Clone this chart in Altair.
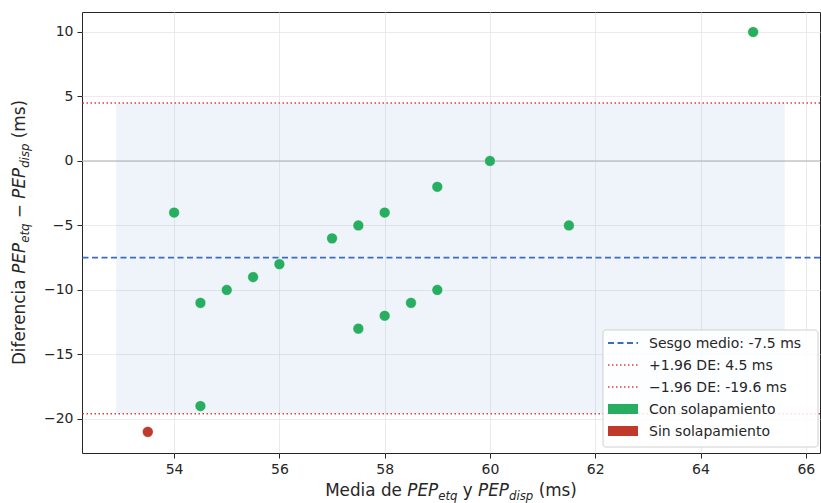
import altair as alt
import pandas as pd

# Bland-Altman data: mean of the two PEP measurements vs. their difference (ms)
mean_pep = [53.5, 54.0, 54.5, 54.5, 55.0, 55.5, 56.0, 57.0, 57.5, 57.5,
            58.0, 58.0, 58.5, 59.0, 59.0, 60.0, 61.5, 65.0]
diff_pep = [-21, -4, -11, -19, -10, -9, -8, -6, -5, -13,
            -4, -12, -11, -2, -10, 0, -5, 10]
overlap = ["Sin solapamiento"] + ["Con solapamiento"] * 17

bias = -7.5
loa_upper = 4.5
loa_lower = -19.6
band_x = [52.9, 65.6]

x_domain = [52.25, 66.27]
y_domain = [-22.64, 11.55]
x_ticks = [54, 56, 58, 60, 62, 64, 66]
y_ticks = [-20, -15, -10, -5, 0, 5, 10]

group_names = ["Con solapamiento", "Sin solapamiento"]
group_colors = ["#27ae60", "#c0392b"]
BIAS_COLOR = "#3b6cc4"
LOA_COLOR = "#d64541"
INK = "#262626"
FONT = "DejaVu Sans"

W, H = 738, 441

points = pd.DataFrame({"media": mean_pep, "dif": diff_pep, "grupo": overlap})
band = pd.DataFrame({"x0": [band_x[0]], "x1": [band_x[1]],
                     "y0": [loa_lower], "y1": [loa_upper]})
one = pd.DataFrame({"k": [0]})

xs = alt.Scale(domain=x_domain, nice=False, zero=False)
ys = alt.Scale(domain=y_domain, nice=False, zero=False)

x_axis = alt.Axis(values=x_ticks, title=None, grid=True, domain=False)
y_axis = alt.Axis(values=y_ticks, title=None, grid=True, domain=False,
                  labelExpr="replace(datum.label, '-', '\u2212')")

band_layer = alt.Chart(band).mark_rect(color="#5a97cf", opacity=0.1).encode(
    x=alt.X("x0:Q", scale=xs, axis=x_axis), x2="x1:Q",
    y=alt.Y("y0:Q", scale=ys, axis=y_axis), y2="y1:Q")

def hline(value, color, width, dash=None):
    kw = dict(color=color, strokeWidth=width)
    if dash:
        kw["strokeDash"] = dash
    return alt.Chart(pd.DataFrame({"v": [value]})).mark_rule(**kw).encode(
        y=alt.Y("v:Q", scale=ys))

zero_line = hline(0, "#b0b0b0", 1)
bias_line = hline(bias, BIAS_COLOR, 1.8, [6, 3.5])
upper_line = hline(loa_upper, LOA_COLOR, 1.6, [1.5, 2.5])
lower_line = hline(loa_lower, LOA_COLOR, 1.6, [1.5, 2.5])

dots = alt.Chart(points).mark_circle(size=115, opacity=1, stroke="white",
                                     strokeWidth=0.4).encode(
    x=alt.X("media:Q", scale=xs),
    y=alt.Y("dif:Q", scale=ys),
    color=alt.Color("grupo:N", scale=alt.Scale(domain=group_names, range=group_colors),
                    legend=None))

# --- DejaVu Sans advance widths (font units, 2048/em) for composing mixed-style titles
ADV = {" ": 651, "(": 799, ")": 799, "M": 1767, "P": 1235, "E": 1294, "D": 1589,
       "a": 1255, "c": 1126, "d": 1300, "e": 1260, "f": 721, "i": 569, "m": 1995,
       "n": 1298, "p": 1300, "q": 1300, "r": 842, "s": 1067, "t": 803, "y": 1212,
       "\u2212": 1716}

def text_width(s, size):
    return sum(ADV.get(c, 1200) for c in s) / 2048 * size

def text_piece(text, x, y, size, italic=False, angle=0):
    return alt.Chart(one).mark_text(
        text=text, font=FONT, fontSize=size, color=INK, align="left",
        baseline="alphabetic", angle=angle,
        fontStyle="italic" if italic else "normal",
    ).encode(x=alt.value(x), y=alt.value(y))

TITLE_FS = 16.8
SUB_FS = TITLE_FS * 0.7
SUB_DROP = 3.6

def compose(pieces):
    # spaces are measured but not drawn (SVG collapses them), so each piece
    # is placed after its own leading whitespace
    out, pos = [], 0.0
    for txt, italic, sub in pieces:
        fs = SUB_FS if sub else TITLE_FS
        lead = txt[: len(txt) - len(txt.lstrip())]
        out.append((txt.strip(), italic, sub, fs, pos + text_width(lead, fs)))
        pos += text_width(txt, fs)
    return out, pos

x_title_pieces, x_total = compose([
    ("Media de", False, False), (" PEP", True, False), ("etq", True, True),
    (" y", False, False), (" PEP", True, False), ("disp", True, True),
    (" (ms)", False, False)])
y_title_pieces, y_total = compose([
    ("Diferencia", False, False), (" PEP", True, False), ("etq", True, True),
    (" \u2212", False, False), (" PEP", True, False), ("disp", True, True),
    (" (ms)", False, False)])

title_layers = []
x0 = W / 2 - x_total / 2
for txt, italic, sub, fs, pos in x_title_pieces:
    title_layers.append(text_piece(txt, x0 + pos, 484 + (SUB_DROP if sub else 0), fs, italic))
y0 = H / 2 + y_total / 2
for txt, italic, sub, fs, pos in y_title_pieces:
    title_layers.append(text_piece(txt, -57 + (SUB_DROP if sub else 0), y0 - pos, fs, italic,
                                   angle=270))

# --- legend box
leg_labels = [f"Sesgo medio: {bias:.1f} ms",
              f"+1.96 DE: {loa_upper:.1f} ms",
              f"\u22121.96 DE: {loa_lower:.1f} ms",
              group_names[0], group_names[1]]
LX0, LX1, LY0, LY1 = 521, 736, 318, 435
row_y = [331, 353, 375, 397, 419]
sym_x0, sym_x1, txt_x = 526, 556, 567

legend_layers = [alt.Chart(one).mark_rect(
    fill="white", fillOpacity=0.85, stroke="#d0d0d0", strokeWidth=1, cornerRadius=3
).encode(x=alt.value(LX0), x2=alt.value(LX1), y=alt.value(LY0), y2=alt.value(LY1))]

line_styles = [(BIAS_COLOR, [6, 3.5], 1.8), (LOA_COLOR, [1.5, 2.5], 1.6),
               (LOA_COLOR, [1.5, 2.5], 1.6)]
for i, (col, dash, wdt) in enumerate(line_styles):
    legend_layers.append(alt.Chart(one).mark_rule(
        color=col, strokeDash=dash, strokeWidth=wdt
    ).encode(x=alt.value(sym_x0), x2=alt.value(sym_x1), y=alt.value(row_y[i])))
for j, col in enumerate(group_colors):
    ry = row_y[3 + j]
    legend_layers.append(alt.Chart(one).mark_rect(color=col).encode(
        x=alt.value(sym_x0), x2=alt.value(sym_x1),
        y=alt.value(ry - 5), y2=alt.value(ry + 5)))
for i, lab in enumerate(leg_labels):
    legend_layers.append(alt.Chart(one).mark_text(
        text=lab, font=FONT, fontSize=14, color=INK, align="left", baseline="middle"
    ).encode(x=alt.value(txt_x), y=alt.value(row_y[i] + 1)))

chart = alt.layer(
    band_layer, zero_line, bias_line, upper_line, lower_line, dots,
    *legend_layers, *title_layers
).properties(
    width=W, height=H,
    autosize=alt.AutoSizeParams(type="none"),
    padding={"left": 82, "top": 12, "right": 1, "bottom": 50},
).configure_view(
    stroke=INK, strokeWidth=1
).configure_axis(
    gridColor="#e6e6e6", gridWidth=0.8,
    tickColor=INK, tickSize=5, tickWidth=1,
    labelFont=FONT, labelFontSize=14, labelColor=INK, labelPadding=4,
)

chart.save("out.html", embed_options={"renderer": "svg", "actions": False})
